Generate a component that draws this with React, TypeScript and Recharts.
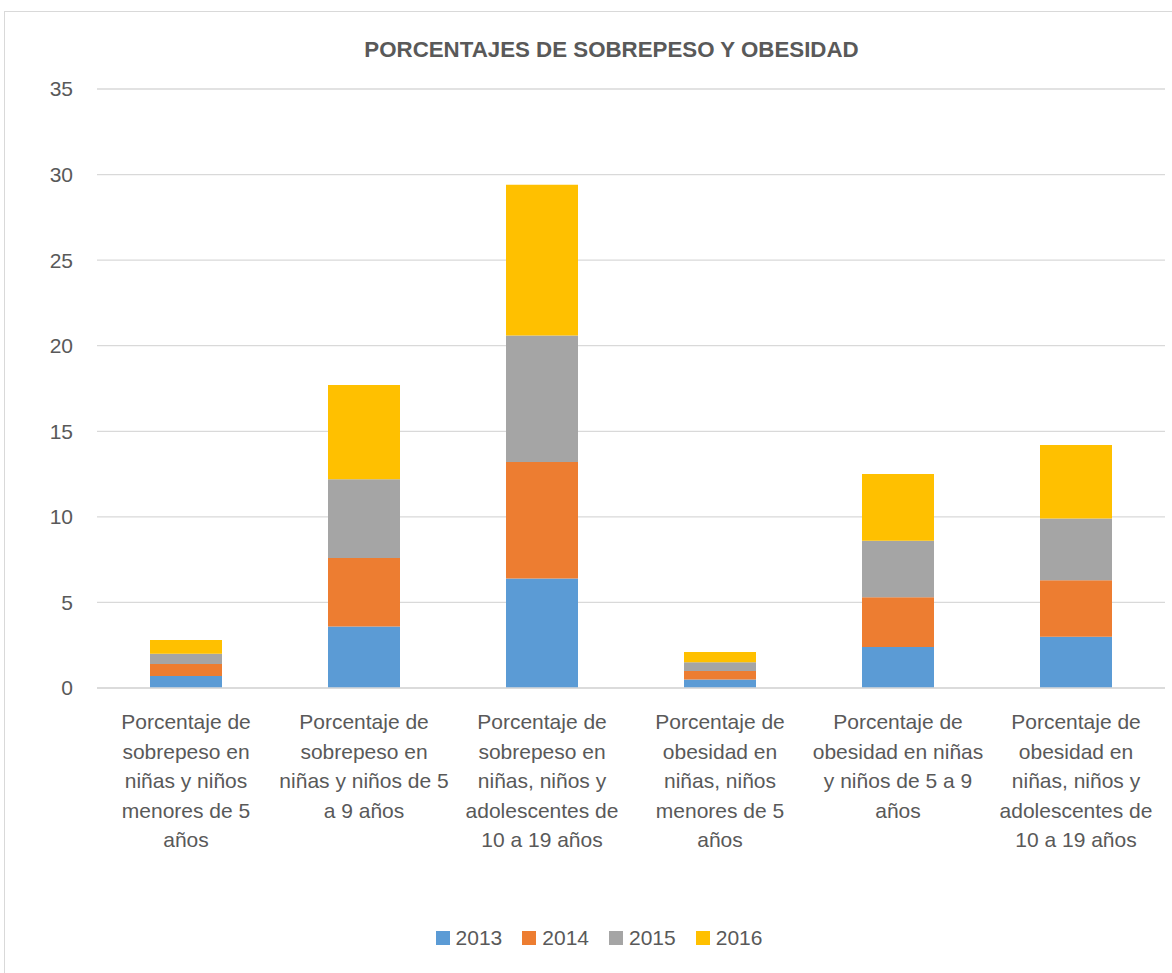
import React from "react";
import { BarChart, Bar, XAxis, YAxis, CartesianGrid } from "recharts";

const categoryLines: string[][] = [
  ["Porcentaje de", "sobrepeso en", "niñas y niños", "menores de 5", "años"],
  ["Porcentaje de", "sobrepeso en", "niñas y niños de 5", "a 9 años"],
  ["Porcentaje de", "sobrepeso en", "niñas, niños y", "adolescentes de", "10 a 19 años"],
  ["Porcentaje de", "obesidad en", "niñas, niños", "menores de 5", "años"],
  ["Porcentaje de", "obesidad en niñas", "y niños de 5 a 9", "años"],
  ["Porcentaje de", "obesidad en", "niñas, niños y", "adolescentes de", "10 a 19 años"],
];

const v2013 = [0.7, 3.6, 6.4, 0.5, 2.4, 3.0];
const v2014 = [0.7, 4.0, 6.8, 0.5, 2.9, 3.3];
const v2015 = [0.6, 4.6, 7.4, 0.5, 3.3, 3.6];
const v2016 = [0.8, 5.5, 8.8, 0.6, 3.9, 4.3];

const yTicks = [0, 5, 10, 15, 20, 25, 30, 35];

const series = [
  { key: "2013", color: "#5b9bd5" },
  { key: "2014", color: "#ed7d31" },
  { key: "2015", color: "#a5a5a5" },
  { key: "2016", color: "#ffc000" },
];

const data = categoryLines.map((lines, i) => ({
  category: lines.join(" "),
  "2013": v2013[i],
  "2014": v2014[i],
  "2015": v2015[i],
  "2016": v2016[i],
}));

const FONT = "'Liberation Sans', Arial, sans-serif";
const TEXT = "#595959";

function CategoryTick({ x, y, index }: { x?: number; y?: number; index?: number }) {
  const lines = categoryLines[index ?? 0] || [];
  return (
    <g transform={`translate(${x},${y})`}>
      {lines.map((line, i) => (
        <text
          key={i}
          x={0}
          y={i * 29.5}
          dy={33}
          textAnchor="middle"
          fill={TEXT}
          fontSize={21}
          fontFamily={FONT}
        >
          {line}
        </text>
      ))}
    </g>
  );
}

export default function App() {
  return (
    <div style={{ position: "absolute", left: 0, top: 0, width: 1172, height: 973, background: "#fff" }}>
      <div
        style={{
          position: "absolute",
          left: 4,
          top: 11,
          width: 1180,
          height: 980,
          border: "1px solid #d9d9d9",
        }}
      />
      <div
        style={{
          position: "absolute",
          left: 0,
          width: 1223,
          top: 37,
          textAlign: "center",
          fontFamily: FONT,
          fontWeight: "bold",
          fontSize: 22.3,
          color: TEXT,
        }}
      >
        PORCENTAJES DE SOBREPESO Y OBESIDAD
      </div>
      <div style={{ position: "absolute", left: 0, top: 0 }}>
        <BarChart
          width={1172}
          height={973}
          data={data}
          margin={{ top: 89, right: 7, bottom: 85, left: 0 }}
          barCategoryGap="30%"
        >
          <CartesianGrid vertical={false} stroke="#d9d9d9" strokeWidth={1.3} />
          <XAxis
            dataKey="category"
            axisLine={{ stroke: "#d9d9d9", strokeWidth: 1.3 }}
            tickLine={false}
            interval={0}
            height={200}
            tick={<CategoryTick />}
          />
          <YAxis
            domain={[0, 35]}
            ticks={yTicks}
            width={97}
            axisLine={false}
            tickLine={false}
            tickMargin={18}
            tick={{ fill: TEXT, fontSize: 21, fontFamily: FONT }}
          />
          {series.map((s) => (
            <Bar
              key={s.key}
              dataKey={s.key}
              stackId="a"
              fill={s.color}
              barSize={72}
              isAnimationActive={false}
            />
          ))}
        </BarChart>
      </div>
      <div
        style={{
          position: "absolute",
          left: 0,
          width: 1198,
          top: 926,
          display: "flex",
          justifyContent: "center",
          gap: 20,
          fontFamily: FONT,
          fontSize: 21,
          color: TEXT,
        }}
      >
        {series.map((s) => (
          <div key={s.key} style={{ display: "flex", alignItems: "center", gap: 6 }}>
            <span style={{ display: "inline-block", width: 14, height: 14, background: s.color }} />
            <span>{s.key}</span>
          </div>
        ))}
      </div>
    </div>
  );
}
